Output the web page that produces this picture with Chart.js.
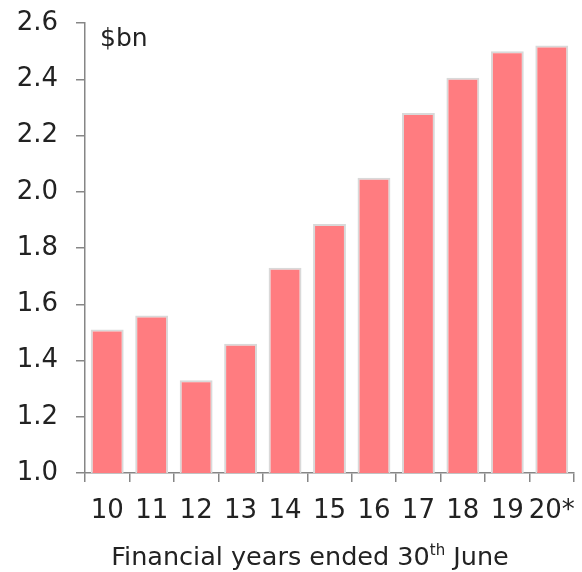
<!DOCTYPE html>
<html>
<head>
<meta charset="utf-8">
<script src="https://cdn.jsdelivr.net/npm/chart.js@4"></script>
<style>
  html, body { margin: 0; padding: 0; background: #fff; }
  #wrap { position: relative; width: 582px; height: 572px; }
</style>
</head>
<body>
<div id="wrap"><canvas id="chart" width="582" height="572"></canvas></div>
<script>
// financial years ended 30 June
const years = ['10', '11', '12', '13', '14', '15', '16', '17', '18', '19', '20*'];
const revenue = [1.51, 1.56, 1.33, 1.46, 1.73, 1.885, 2.05, 2.28, 2.405, 2.5, 2.52];
const yTicks = [1.0, 1.2, 1.4, 1.6, 1.8, 2.0, 2.2, 2.4, 2.6];
const unitLabel = '$bn';
const axisTitle = ['Financial years ended 30', 'th', ' June'];

const FONT = "'DejaVu Sans', sans-serif";
const TEXT = '#222222';
const AXIS = '#868686';

// unit label in the top-left corner of the plot + x title with superscript
const extraText = {
    id: 'extraText',
    afterDraw(chart) {
        const ctx = chart.ctx;
        const area = chart.chartArea;
        ctx.save();
        ctx.fillStyle = TEXT;
        ctx.textBaseline = 'alphabetic';
        ctx.textAlign = 'left';
        ctx.font = '25px ' + FONT;
        ctx.fillText(unitLabel, area.left + 15, 46);

        // x axis title
        const big = '25.5px ' + FONT;
        const small = '15px ' + FONT;
        ctx.font = big;
        const w0 = ctx.measureText(axisTitle[0]).width;
        const w2 = ctx.measureText(axisTitle[2]).width;
        ctx.font = small;
        const w1 = ctx.measureText(axisTitle[1]).width;
        let x = 310 - (w0 + w1 + w2) / 2;
        const base = 565;
        ctx.font = big;
        ctx.fillText(axisTitle[0], x, base);
        x += w0;
        ctx.font = small;
        ctx.fillText(axisTitle[1], x, base - 10);
        x += w1;
        ctx.font = big;
        ctx.fillText(axisTitle[2], x, base);
        ctx.restore();
    }
};

const ctx = document.getElementById('chart').getContext('2d');
new Chart(ctx, {
    type: 'bar',
    data: {
        labels: years,
        datasets: [{
            data: revenue,
            backgroundColor: '#ff7c80',
            borderColor: '#d9d9d9',
            borderWidth: 2,
            borderSkipped: false,
            categoryPercentage: 1,
            barPercentage: 0.74
        }]
    },
    options: {
        responsive: false,
        animation: false,
        layout: { padding: { top: 23, right: 8, left: 0, bottom: 0 } },
        plugins: {
            legend: { display: false },
            tooltip: { enabled: false }
        },
        scales: {
            x: {
                offset: true,
                grid: {
                    offset: true,
                    drawOnChartArea: false,
                    drawTicks: true,
                    tickLength: 9,
                    color: AXIS,
                    lineWidth: 1.5
                },
                border: { display: true, color: AXIS, width: 1.5 },
                ticks: {
                    color: TEXT,
                    padding: 14,
                    maxRotation: 0,
                    autoSkip: false,
                    font: { family: FONT, size: 26 }
                },
                afterFit: s => {
                    s.height = 99;
                    s.paddingLeft = 0;
                    s.paddingRight = 0;
                }
            },
            y: {
                min: yTicks[0],
                max: yTicks[yTicks.length - 1],
                afterBuildTicks: s => { s.ticks = yTicks.map(v => ({ value: v })); },
                grid: {
                    drawOnChartArea: false,
                    drawTicks: true,
                    tickLength: 9,
                    color: AXIS,
                    lineWidth: 1.5
                },
                border: { display: true, color: AXIS, width: 1.5 },
                ticks: {
                    color: TEXT,
                    padding: 18,
                    font: { family: FONT, size: 26 },
                    callback: v => v.toFixed(1)
                },
                afterFit: s => {
                    s.width = 85;
                    // let layout padding decide the top, not label padding
                    s.paddingTop = 0;
                    s.paddingBottom = 0;
                }
            }
        }
    },
    plugins: [extraText]
});
</script>
</body>
</html>
